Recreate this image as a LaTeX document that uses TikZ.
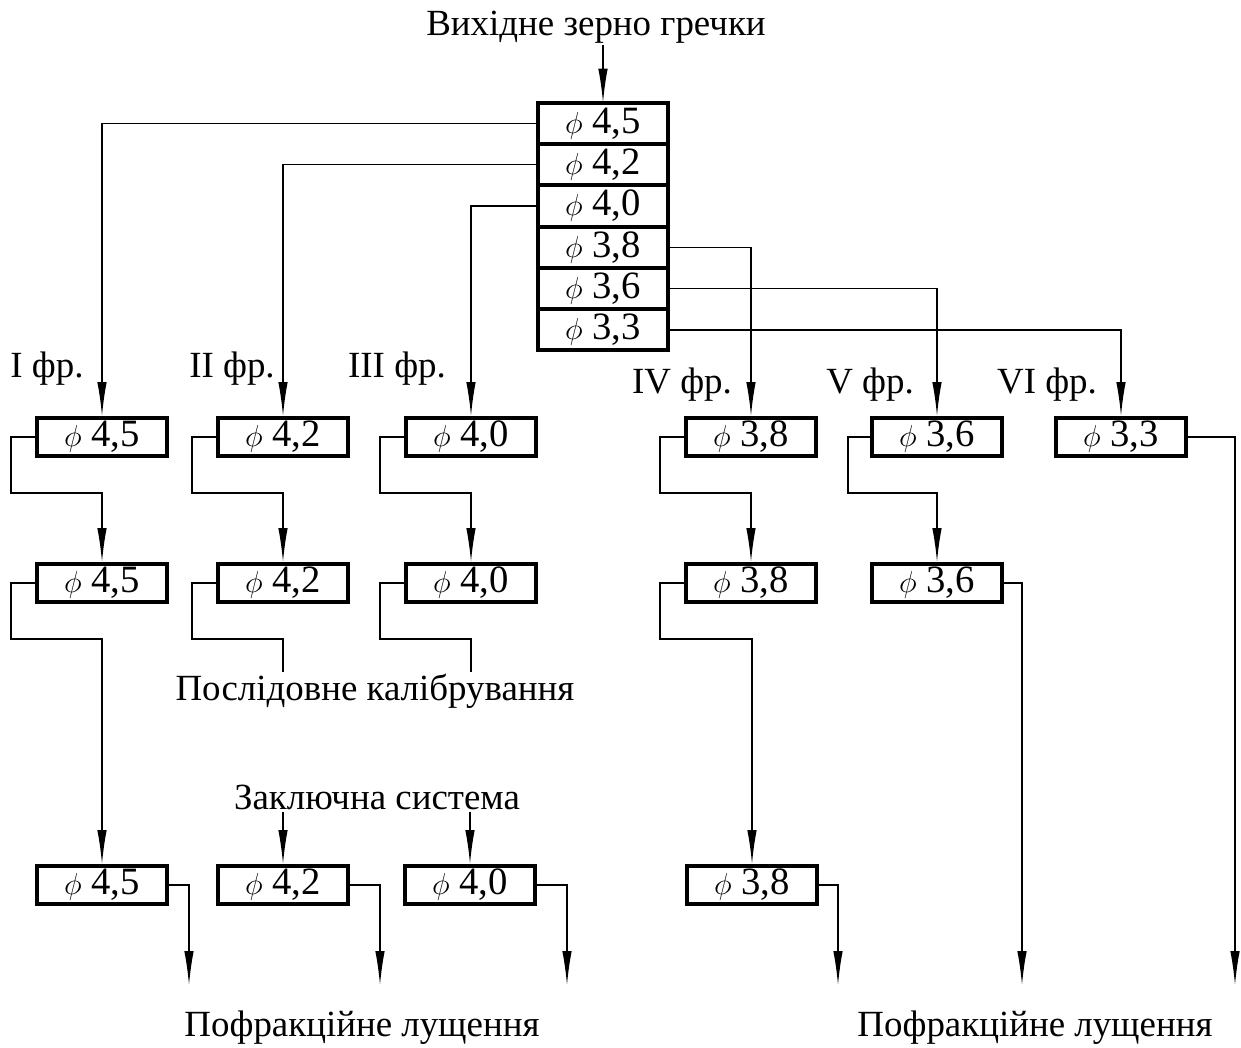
\documentclass[tikz,border=0pt]{standalone}
\usepackage{fontspec}
\setmainfont{Liberation Serif}
\usepackage{tikz}
\usetikzlibrary{arrows.meta,calc}
\tikzset{
  flowarrow/.style={-{Latex[length=6.8mm,width=1.9mm]}, line width=0.8pt},
  flowline/.style={line width=0.8pt},
  txt/.style={inner sep=1pt, font=\fontsize{21}{23}\selectfont}
}
\newcommand{\sieve}[1]{{\fontsize{17}{17}\selectfont$\phi$}\ #1}

\begin{document}
\begin{tikzpicture}[
  x=0.2mm, y=-0.2mm,
  frbox/.style={draw, line width=0.8mm, minimum width=26mm, minimum height=7.6mm, inner sep=0pt, font=\fontsize{22}{24}\selectfont},
  stackrow/.style={frbox, minimum height=8.26mm, outer sep=0pt}
]
\useasboundingbox (0,0) rectangle (1241,1047);

% Sieve stack for the incoming grain
\foreach \lbl [count=\i] in {{4,5},{4,2},{4,0},{3,8},{3,6},{3,3}}
  \node[stackrow] (s\i) at (603,{82+41.3*\i}) {\sieve{\lbl}};
\node[txt] (src) at (596,27) {Вихідне зерно гречки};
\draw[flowarrow] (src.south -| s1.north) -- (s1.north);

% Fraction boxes
\node[frbox] (f1a) at (102,437) {\sieve{4,5}};
\node[frbox] (f1b) at (102,583) {\sieve{4,5}};
\node[frbox] (f1c) at (102,885) {\sieve{4,5}};
\node[frbox] (f2a) at (283,437) {\sieve{4,2}};
\node[frbox] (f2b) at (283,583) {\sieve{4,2}};
\node[frbox] (f2c) at (283,885) {\sieve{4,2}};
\node[frbox] (f3a) at (471,437) {\sieve{4,0}};
\node[frbox] (f3b) at (471,583) {\sieve{4,0}};
\node[frbox] (f3c) at (470,885) {\sieve{4,0}};
\node[frbox] (f4a) at (751,437) {\sieve{3,8}};
\node[frbox] (f4b) at (751,583) {\sieve{3,8}};
\node[frbox] (f4c) at (752,885) {\sieve{3,8}};
\node[frbox] (f5a) at (937,437) {\sieve{3,6}};
\node[frbox] (f5b) at (937,583) {\sieve{3,6}};
\node[frbox] (f6a) at (1121,437) {\sieve{3,3}};

% Fraction labels and captions
\node[txt] at (47,369) {I фр.};
\node[txt] at (232,369) {II фр.};
\node[txt] at (397,369) {III фр.};
\node[txt] at (682,385) {IV фр.};
\node[txt] at (870,385) {V фр.};
\node[txt] at (1047,385) {VI фр.};
\node[txt] (seq) at (375,691) {Послідовне калібрування};
\node[txt] (final) at (377,797) {Заключна система};
\node[txt] (peelL) at (362,1028) {Пофракційне лущення};
\node[txt] (peelR) at (1035,1028) {Пофракційне лущення};

% Turning rows of the return lines
\coordinate (turnA) at (0,493);
\coordinate (turnB) at (0,639);

% Stack outlets to the fractions
\draw[flowarrow] (s1.west) -| (f1a.north);
\draw[flowarrow] (s2.west) -| (f2a.north);
\draw[flowarrow] (s3.west) -| (f3a.north);
\draw[flowarrow] (s4.east) -| (f4a.north);
\draw[flowarrow] (s5.east) -| (f5a.north);
\draw[flowarrow] (s6.east) -| (f6a.north);

% Repeated sieving
\draw[flowarrow] (f1a.west) -- ++(-24,0) |- (turnA -| f1b.north) -- (f1b.north);
\draw[flowarrow] (f2a.west) -- ++(-24,0) |- (turnA -| f2b.north) -- (f2b.north);
\draw[flowarrow] (f3a.west) -- ++(-24,0) |- (turnA -| f3b.north) -- (f3b.north);
\draw[flowarrow] (f4a.west) -- ++(-24,0) |- (turnA -| f4b.north) -- (f4b.north);
\draw[flowarrow] (f5a.west) -- ++(-22,0) |- (turnA -| f5b.north) -- (f5b.north);
\draw[flowarrow] (f1b.west) -- ++(-24,0) |- (turnB -| f1c.north) -- (f1c.north);
\draw[flowarrow] (f4b.west) -- ++(-24,0) |- (turnB -| f4c.north) -- (f4c.north);
\draw[flowline] (f2b.west) -- ++(-24,0) |- (turnB -| f2b.north) -- (seq.north -| f2b.north);
\draw[flowline] (f3b.west) -- ++(-24,0) |- (turnB -| f3b.north) -- (seq.north -| f3b.north);
\draw[flowarrow] (final.south -| f2c.north) -- (f2c.north);
\draw[flowarrow] (final.south -| f3c.north) -- (f3c.north);

% Outlets to peeling
\draw[flowarrow] (f1c.east) -- ++(20,0) -- ++(0,100);
\draw[flowarrow] (f2c.east) -- ++(30,0) -- ++(0,100);
\draw[flowarrow] (f3c.east) -- ++(30,0) -- ++(0,100);
\draw[flowarrow] (f4c.east) -- ++(19,0) -- ++(0,100);
\draw[flowarrow] (f5b.east) -- ++(18,0) -- ++(0,402);
\draw[flowarrow] (f6a.east) -- ++(47,0) -- ++(0,548);
\end{tikzpicture}
\end{document}
